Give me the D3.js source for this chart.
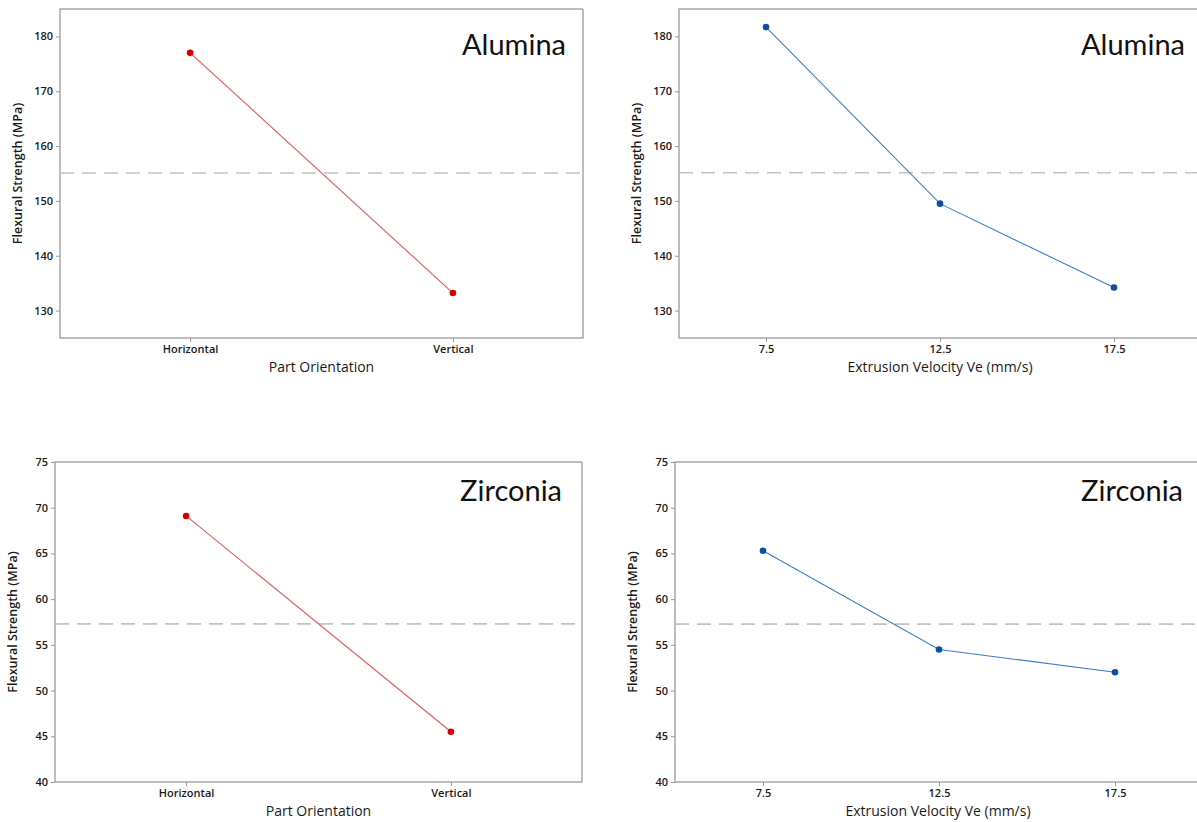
<!DOCTYPE html>
<html>
<head>
<meta charset="utf-8">
<script src="https://cdn.jsdelivr.net/npm/d3@7"></script>
<style>
  body { margin: 0; background: #fff; }
  .tick text { font-family: "Open Sans", sans-serif; font-size: 11px; font-weight: 600; fill: #1a1a1a; }
  .tick line { stroke: #999; }
  .domain { display: none; }
</style>
</head>
<body>
<div class="chart"></div>
<script>
// data
var orientations = ["Horizontal", "Vertical"];
var velocities = [7.5, 12.5, 17.5];
var velocityTicks = ["7.5", "12.5", "17.5"];

var aluminaOrient = [177.0, 133.2];
var aluminaVel = [181.7, 149.5, 134.2];
var zirconiaOrient = [69.1, 45.5];
var zirconiaVel = [65.3, 54.5, 52.0];

var aluminaTicks = [130, 140, 150, 160, 170, 180];
var zirconiaTicks = [40, 45, 50, 55, 60, 65, 70, 75];

var svg = d3.select(".chart").append("svg")
  .attr("width", 1197)
  .attr("height", 822);

var panels = [
  { x0: 60, x1: 583, y0: 9, y1: 338, yDomain: [125, 185], yTicks: aluminaTicks,
    cats: orientations, vals: aluminaOrient, color: "#d40000", lineColor: "#e05a5a",
    xTitle: "Part Orientation", label: "Alumina", labelX: 566, labelY: 55 },
  { x0: 679, x1: 1201, y0: 9, y1: 338, yDomain: [125, 185], yTicks: aluminaTicks,
    nums: velocities, vals: aluminaVel, color: "#0b4fa0", lineColor: "#3d7fc8",
    xTitle: "Extrusion Velocity Ve (mm/s)", label: "Alumina", labelX: 1185, labelY: 55, noRight: true },
  { x0: 55, x1: 582, y0: 462, y1: 782, yDomain: [40, 75], yTicks: zirconiaTicks,
    cats: orientations, vals: zirconiaOrient, color: "#d40000", lineColor: "#e05a5a",
    xTitle: "Part Orientation", label: "Zirconia", labelX: 562, labelY: 501 },
  { x0: 675, x1: 1203, y0: 462, y1: 782, yDomain: [40, 75], yTicks: zirconiaTicks,
    nums: velocities, vals: zirconiaVel, color: "#0b4fa0", lineColor: "#3d7fc8",
    xTitle: "Extrusion Velocity Ve (mm/s)", label: "Zirconia", labelX: 1183, labelY: 501, noRight: true }
];

panels.forEach(function(p) {
  var g = svg.append("g");
  var y = d3.scaleLinear().domain(p.yDomain).range([p.y1, p.y0]);
  var x, xAxis, pts;

  if (p.cats) {
    x = d3.scalePoint().domain(p.cats).range([p.x0, p.x1]).padding(0.495);
    xAxis = d3.axisBottom(x).tickSize(4).tickPadding(3);
    pts = p.cats.map(function(c, i) { return [x(c), y(p.vals[i])]; });
  } else {
    x = d3.scaleLinear().domain([5, 20]).range([p.x0, p.x1]);
    xAxis = d3.axisBottom(x).tickValues(p.nums)
      .tickFormat(function(d, i) { return velocityTicks[i]; })
      .tickSize(4).tickPadding(3);
    pts = p.nums.map(function(v, i) { return [x(v), y(p.vals[i])]; });
  }

  // frame
  var frame = [[p.x1, p.y0], [p.x0, p.y0], [p.x0, p.y1], [p.x1, p.y1]];
  if (!p.noRight) frame.push([p.x1, p.y0]);
  g.append("path")
    .attr("d", d3.line()(frame))
    .attr("fill", "none")
    .attr("stroke", "#a8a8a8")
    .attr("stroke-width", 1.5);

  // axes
  g.append("g")
    .attr("transform", "translate(0," + p.y1 + ")")
    .call(xAxis);
  g.append("g")
    .attr("transform", "translate(" + p.x0 + ",0)")
    .call(d3.axisLeft(y).tickValues(p.yTicks).tickSize(4).tickPadding(3));

  // mean reference line
  var mean = d3.mean(p.vals);
  g.append("line")
    .attr("x1", p.x0).attr("x2", Math.min(p.x1, 1197))
    .attr("y1", y(mean)).attr("y2", y(mean))
    .attr("stroke", "#c4c4c4")
    .attr("stroke-width", 1.6)
    .attr("stroke-dasharray", "14,8");

  // main effects line
  g.append("path")
    .attr("d", d3.line()(pts))
    .attr("fill", "none")
    .attr("stroke", p.lineColor)
    .attr("stroke-width", 1.1);

  g.selectAll("circle.pt")
    .data(pts)
    .enter()
    .append("circle")
    .attr("class", "pt")
    .attr("cx", d => d[0])
    .attr("cy", d => d[1])
    .attr("r", 3.3)
    .attr("fill", p.color);

  // axis titles
  g.append("text")
    .attr("x", (p.x0 + Math.min(p.x1, 1201)) / 2)
    .attr("y", p.y1 + 34)
    .attr("text-anchor", "middle")
    .style("font-family", "'Open Sans', sans-serif")
    .style("font-size", "14px")
    .style("fill", "#1a1a1a")
    .text(p.xTitle);

  g.append("text")
    .attr("transform", "translate(" + (p.x0 - 38) + "," + ((p.y0 + p.y1) / 2) + ") rotate(-90)")
    .attr("text-anchor", "middle")
    .style("font-family", "'Open Sans', sans-serif")
    .style("font-size", "12.5px")
    .style("font-weight", "600")
    .style("fill", "#1a1a1a")
    .text("Flexural Strength (MPa)");

  // material label
  g.append("text")
    .attr("x", p.labelX)
    .attr("y", p.labelY)
    .attr("text-anchor", "end")
    .style("font-family", "Lato, sans-serif")
    .style("font-size", "29px")
    .style("fill", "#111")
    .text(p.label);
});
</script>
</body>
</html>
